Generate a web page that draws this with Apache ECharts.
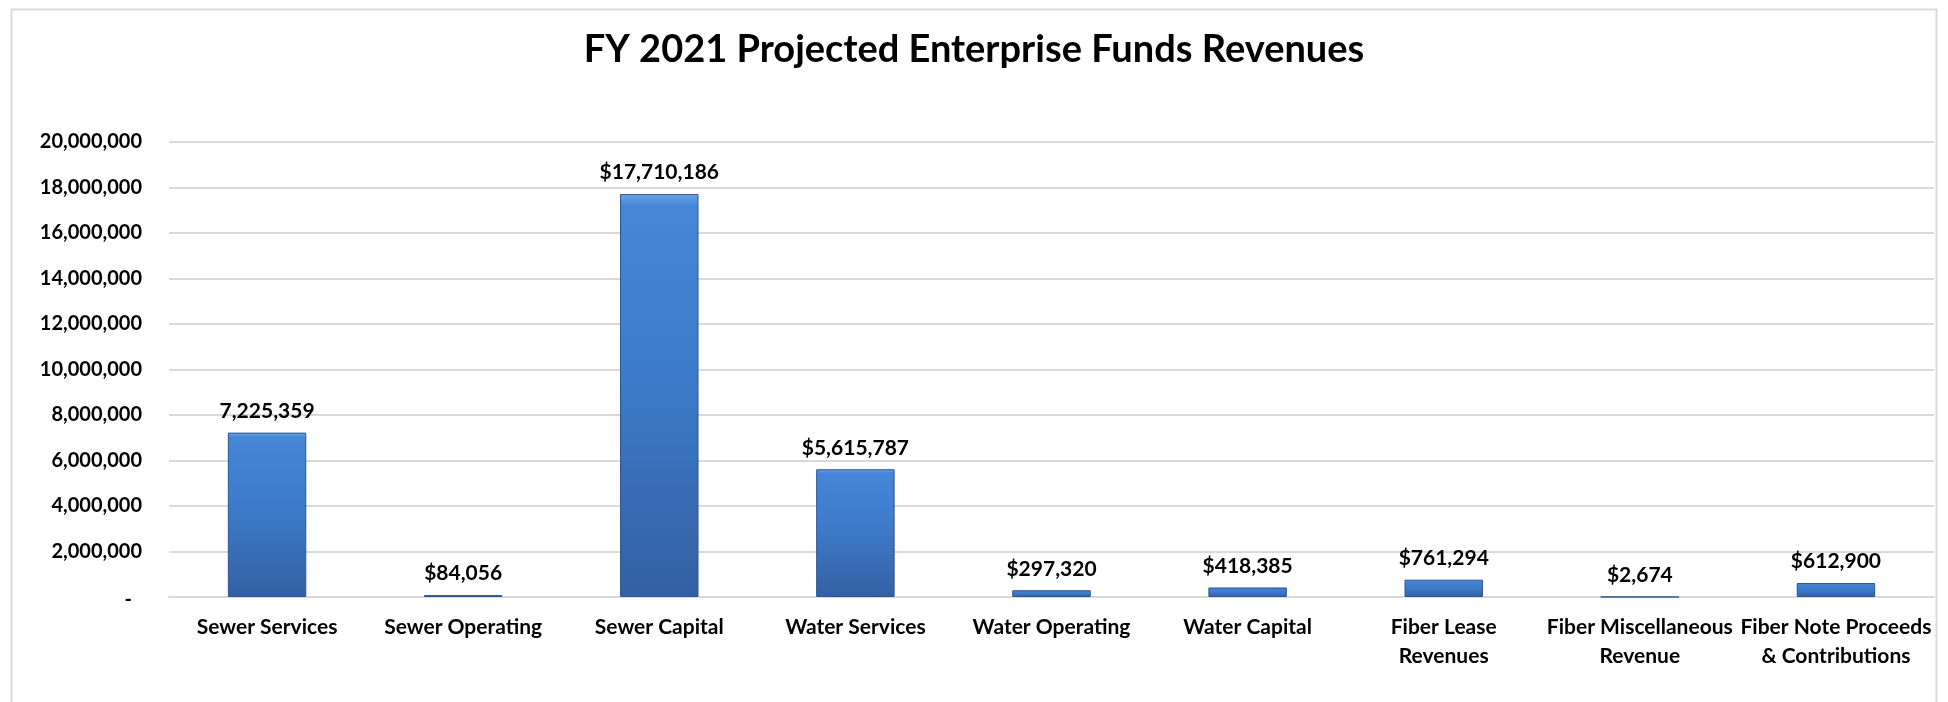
<!DOCTYPE html>
<html>
<head>
<meta charset="utf-8">
<style>
  html, body { margin: 0; padding: 0; background: #ffffff; }
  #chart { width: 1948px; height: 702px; }
</style>
<script src="https://cdn.jsdelivr.net/npm/echarts@6/dist/echarts.min.js"></script>
</head>
<body>
<div id="chart"></div>
<script>
// FY 2021 enterprise fund revenue projections by source
const categories = [
  'Sewer Services',
  'Sewer Operating',
  'Sewer Capital',
  'Water Services',
  'Water Operating',
  'Water Capital',
  'Fiber Lease\nRevenues',
  'Fiber Miscellaneous\nRevenue',
  'Fiber Note Proceeds\n& Contributions'
];
const revenues = [7225359, 84056, 17710186, 5615787, 297320, 418385, 761294, 2674, 612900];
// currency sign shown in front of each bar's value label
const labelPrefixes = ['', '$', '$', '$', '$', '$', '$', '$', '$'];
const yTicks = { min: 0, max: 20000000, interval: 2000000 };

const FONT = 'Lato, "Open Sans", sans-serif';
const fmt = v => v.toLocaleString('en-US');

const chart = echarts.init(document.getElementById('chart'), null, { renderer: 'canvas' });

chart.setOption({
  backgroundColor: '#ffffff',
  animation: false,
  title: {
    text: 'FY 2021 Projected Enterprise Funds Revenues',
    left: 'center',
    top: 26,
    textStyle: { fontFamily: FONT, fontWeight: 'bold', fontSize: 38, color: '#000000' }
  },
  graphic: [{
    type: 'rect',
    silent: true,
    shape: { x: 11.5, y: 9.5, width: 1925, height: 720 },
    style: { fill: 'none', stroke: '#d9d9d9', lineWidth: 2 }
  }],
  grid: { left: 169, right: 14, top: 142, bottom: 105, containLabel: false },
  xAxis: {
    type: 'category',
    data: categories,
    axisTick: { show: false },
    axisLine: { show: true, lineStyle: { color: '#d9d9d9', width: 2 } },
    axisLabel: {
      interval: 0,
      margin: 16,
      fontFamily: FONT,
      fontWeight: 'bold',
      fontSize: 21,
      lineHeight: 29,
      color: '#000000'
    }
  },
  yAxis: {
    type: 'value',
    min: yTicks.min,
    max: yTicks.max,
    interval: yTicks.interval,
    axisLine: { show: false },
    axisTick: { show: false },
    splitLine: { lineStyle: { color: '#d9d9d9', width: 2 } },
    axisLabel: {
      margin: 27,
      fontFamily: FONT,
      fontWeight: 'bold',
      fontSize: 20,
      color: '#000000',
      // accounting-style dash for zero, set in from the right edge
      formatter: v => (v === 0 ? '{zero|-}' : fmt(v)),
      rich: {
        zero: { fontFamily: FONT, fontWeight: 'bold', fontSize: 20, color: '#000000', padding: [6, 10, 0, 0] }
      }
    }
  },
  series: [{
    type: 'bar',
    data: revenues,
    barCategoryGap: '60%',
    itemStyle: {
      color: new echarts.graphic.LinearGradient(0, 0, 0, 1, [
        { offset: 0, color: '#6aa2e4' },
        { offset: 0.03, color: '#4686d6' },
        { offset: 0.45, color: '#3d7bca' },
        { offset: 1, color: '#3360a3' }
      ]),
      borderColor: '#2c5691',
      borderWidth: 1
    },
    label: {
      show: true,
      position: 'top',
      distance: 11,
      fontFamily: FONT,
      fontWeight: 'bold',
      fontSize: 21,
      color: '#000000',
      formatter: p => labelPrefixes[p.dataIndex] + fmt(p.value)
    }
  }]
});
</script>
</body>
</html>
